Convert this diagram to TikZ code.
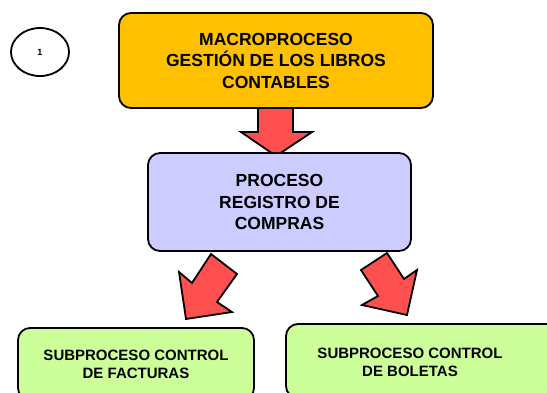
\documentclass[tikz,border=0pt]{standalone}
\usepackage{fontspec}
\setmainfont{Liberation Sans}
\usetikzlibrary{shapes.geometric}

\definecolor{macrofill}{HTML}{FFC000}
\definecolor{procfill}{HTML}{CCCCFF}
\definecolor{subfill}{HTML}{CCFF99}
\definecolor{arrowfill}{HTML}{FF5050}

\tikzset{
  levelbox/.style={draw=black, line width=1.8pt, rounded corners=12pt, align=center,
    inner sep=0pt, font=\bfseries\fontsize{17.5}{21.5}\selectfont},
  subtext/.style={align=center, inner sep=0pt, font=\bfseries\fontsize{15}{18}\selectfont},
  blockarrow/.style={draw=black, line width=1.8pt, fill=arrowfill, line join=miter}
}

\begin{document}
\begin{tikzpicture}[x=1pt, y=-1pt]
  \useasboundingbox (0,0) rectangle (547,392);

  % Block arrows between the levels
  \draw[blockarrow] (258,108) -- (293,108) -- (293,132) -- (312,132) -- (276,156)
    -- (241,132) -- (258,132) -- cycle;
  \draw[blockarrow] (211,254) -- (237,274) -- (217,302) -- (232,312) -- (186,319)
    -- (179,272) -- (192,283) -- cycle;
  \draw[blockarrow] (387,253) -- (404,279) -- (417,270) -- (407,315) -- (362,305)
    -- (378,296) -- (361,270) -- cycle;

  % Page number
  \node[draw=black, line width=1.8pt, ellipse, minimum width=58pt, minimum height=48pt,
    inner sep=0pt, font=\bfseries\fontsize{9}{10}\selectfont] (pagenum) at (40,52) {1};

  % Macroprocess
  \node[levelbox, fill=macrofill, minimum width=314pt, minimum height=95pt] (macro)
    at (276,60.5) {MACROPROCESO\\GESTIÓN DE LOS LIBROS\\CONTABLES};

  % Process
  \node[levelbox, fill=procfill, minimum width=263pt, minimum height=98pt] (proceso)
    at (279.5,202) {PROCESO\\REGISTRO DE\\COMPRAS};

  % Subprocesses
  \node[levelbox, fill=subfill, minimum width=236pt, minimum height=72pt] (facturas)
    at (136,364) {};
  \node[subtext] (facturastxt) at (136,364) {SUBPROCESO CONTROL\\DE FACTURAS};

  \node[levelbox, fill=subfill, minimum width=274pt, minimum height=74pt] (boletas)
    at (423,361) {};
  \node[subtext] (boletastxt) at (410,362) {SUBPROCESO CONTROL\\DE BOLETAS};
\end{tikzpicture}
\end{document}
